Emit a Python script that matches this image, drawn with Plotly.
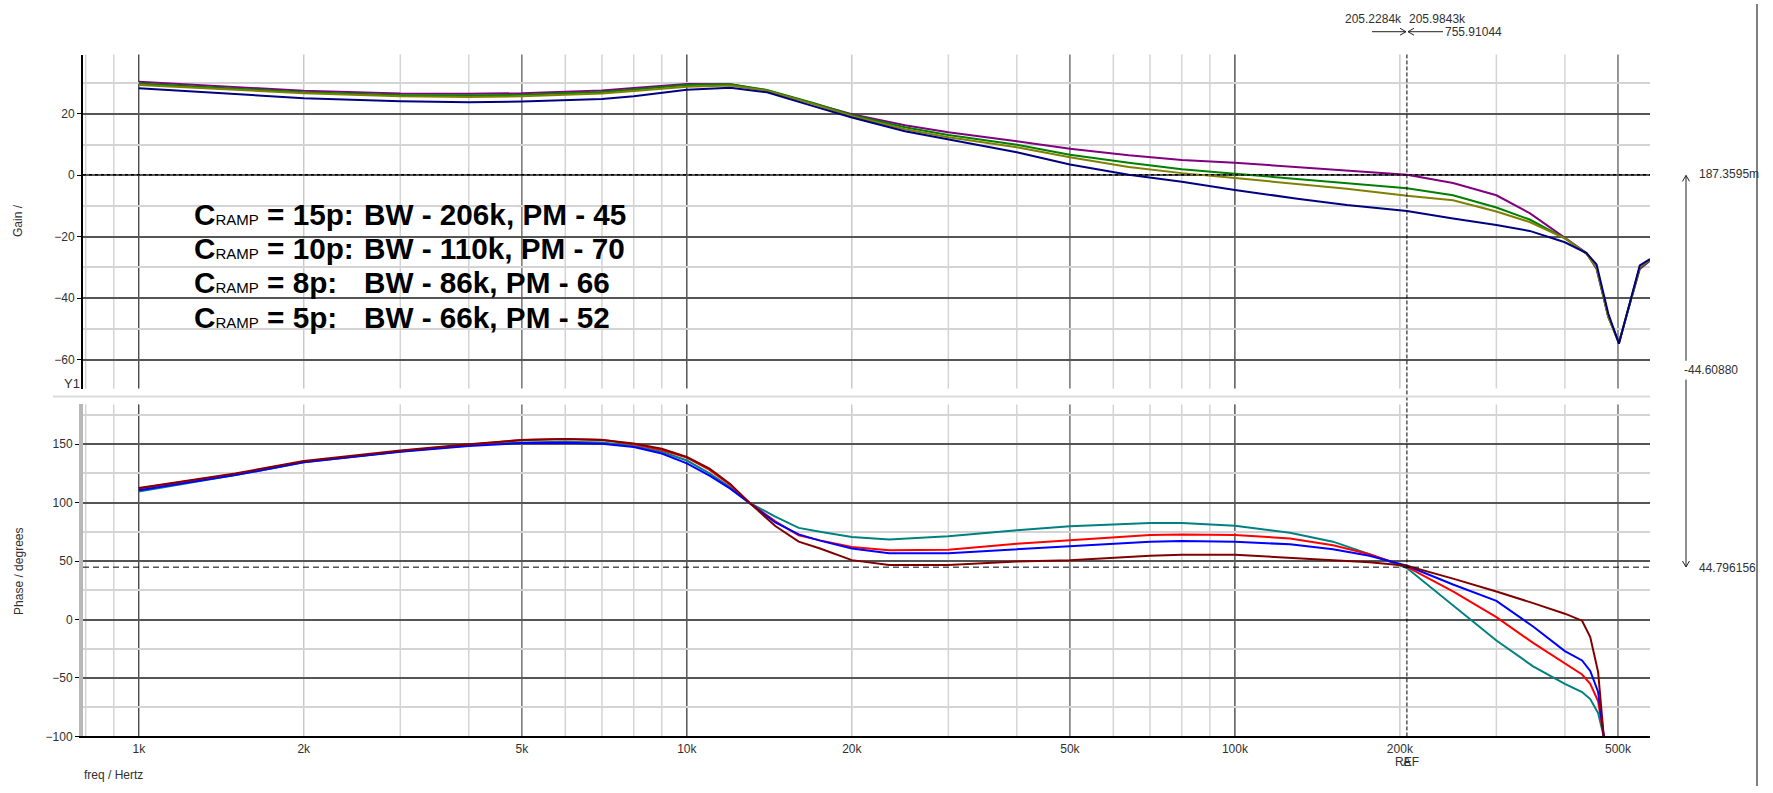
import numpy as np
import plotly.graph_objects as go

W, H = 1773, 793
FONT = "Liberation Sans, Arial, sans-serif"

# ---------------- data ----------------
gain_freq = [1000, 1500, 2000, 3000, 4000, 5000, 6000, 7000, 8000, 9000, 10000, 12000, 14000,
             17000, 20000, 25000, 30000, 40000, 50000, 64000, 80000, 100000, 130000, 160000,
             206000, 250000, 300000, 345000, 400000, 438000, 457000, 480000, 502000, 548000, 572000]
gain_15p = [30.4, 28.8, 27.5, 26.6, 26.5, 26.7, 27.1, 27.6, 28.4, 29.1, 29.7, 29.6, 27.6,
            23.4, 19.9, 16.3, 14.0, 11.1, 8.6, 6.5, 5.0, 4.1, 2.7, 1.6,
            0.2, -2.5, -6.5, -12.3, -20.2, -25.3, -30.5, -46.0, -54.4, -30.5, -27.8]
gain_10p = [29.9, 28.3, 27.0, 26.1, 26.0, 26.2, 26.6, 27.1, 27.9, 28.6, 29.4, 29.6, 27.8,
            23.5, 19.6, 15.6, 13.1, 9.9, 6.7, 4.1, 2.0, 0.5, -1.2, -2.4,
            -4.2, -6.5, -10.5, -14.4, -20.5, -25.5, -30.0, -46.0, -54.6, -30.0, -27.6]
gain_8p = [29.4, 27.9, 26.7, 25.7, 25.5, 25.7, 26.1, 26.6, 27.4, 28.2, 28.8, 29.2, 27.5,
           23.2, 19.3, 15.0, 12.4, 9.1, 5.9, 2.7, 0.7, -0.9, -2.9, -4.4,
           -6.7, -8.1, -11.8, -15.2, -20.5, -25.5, -30.0, -46.0, -54.6, -29.8, -27.5]
gain_5p = [28.3, 26.5, 25.1, 24.1, 23.8, 24.0, 24.3, 24.8, 25.7, 26.9, 27.8, 28.5, 27.0,
           22.5, 18.8, 14.3, 11.6, 7.5, 3.5, 0.2, -2.1, -4.8, -7.6, -9.7,
           -11.6, -14.1, -16.2, -18.1, -21.8, -25.3, -29.0, -45.0, -54.8, -29.3, -27.3]

phase_freq = [1000, 1500, 2000, 3000, 4000, 5000, 6000, 7000, 8000, 9000, 10000, 11000, 12000,
              13000, 14500, 16000, 17500, 20000, 23400, 30000, 40000, 50000, 70000, 80000,
              100000, 126000, 151000, 176000, 206000, 250000, 300000, 350000, 400000, 430000,
              445000, 460000, 471000]
phase_teal = [109.4, 123.5, 134.5, 143.8, 149.0, 151.5, 152.0, 151.5, 148.5, 143.5, 136.0, 125.0, 113.0,
              100.0, 88.0, 78.4, 75.0, 70.5, 68.5, 71.3, 76.4, 79.8, 82.6, 82.6,
              80.3, 74.2, 66.6, 55.9, 44.0, 12.0, -18.0, -40.0, -55.0, -62.0,
              -68.0, -80.0, -100.0]
phase_red = [112.0, 124.5, 135.0, 144.0, 149.5, 153.5, 154.5, 153.7, 150.0, 145.0, 138.5, 128.0, 115.0,
             100.0, 84.0, 72.0, 67.7, 62.0, 59.3, 59.6, 64.9, 67.7, 72.2, 72.8,
             72.2, 69.4, 63.5, 55.9, 45.0, 24.0, 2.0, -20.0, -38.0, -47.0,
             -55.0, -70.0, -100.0]
phase_blue = [110.5, 123.5, 134.5, 143.5, 148.5, 151.0, 151.2, 150.3, 147.5, 142.0, 133.5, 123.0, 112.0,
              100.0, 83.0, 72.8, 67.5, 60.7, 56.7, 56.7, 60.1, 62.1, 66.6, 67.1,
              66.6, 64.3, 60.1, 54.5, 46.0, 30.0, 16.0, -6.0, -27.0, -35.0,
              -44.0, -62.0, -100.0]
phase_maroon = [112.5, 125.0, 135.5, 144.5, 150.0, 153.5, 154.5, 153.5, 150.5, 146.0, 139.0, 129.0, 116.0,
                100.0, 80.0, 66.6, 60.7, 50.8, 46.6, 46.6, 49.7, 50.8, 54.5, 55.3,
                55.3, 53.1, 50.8, 48.9, 46.0, 35.0, 24.0, 14.0, 5.0, -1.0,
                -15.0, -45.0, -100.0]

x_tick_vals = [1e3, 2e3, 5e3, 1e4, 2e4, 5e4, 1e5, 2e5, 5e5]
x_tick_text = ["1k", "2k", "5k", "10k", "20k", "50k", "100k", "200k", "500k"]
x_decades = [1e3, 1e4, 1e5]
x_fives = [5e3, 5e4, 5e5]
x_twos = [2e3, 2e4, 2e5]
x_minor = [800, 900, 3e3, 4e3, 6e3, 7e3, 8e3, 9e3, 3e4, 4e4, 6e4, 7e4, 8e4, 9e4, 3e5, 4e5]

gain_major = [-60, -40, -20, 0, 20]
gain_minor = [-50, -30, -10, 10, 30]
phase_major = [-100, -50, 0, 50, 100, 150]
phase_minor = [-75, -25, 25, 75, 125, 175]

legend_c = ["15p", "10p", "8p", "5p"]
legend_bw = ["206k", "110k", "86k", "66k"]
legend_pm = ["45", "70", "66", "52"]

CURSOR_A = 205228.4
CURSOR_B = 205984.3
GAIN_REF = 0.1873595
PHASE_REF = 44.796156

# ---------------- layout geometry ----------------
def px(x):
    return x / W

def py(y):
    return 1 - y / H

XDOM = [px(83), px(1650)]
UP_DOM = [py(392), py(55)]
LO_DOM = [py(743), py(408)]
XRANGE = [np.log10(791), np.log10(572000)]

fig = go.Figure()

gain_series = [(gain_15p, "#800080"), (gain_10p, "#008000"), (gain_8p, "#808000"), (gain_5p, "#000080")]
for vals, col in gain_series:
    fig.add_trace(go.Scatter(x=gain_freq, y=vals, mode="lines", line=dict(color=col, width=2),
                             xaxis="x2", yaxis="y2", showlegend=False, hoverinfo="skip"))

phase_series = [(phase_teal, "#008080"), (phase_red, "#FF0000"), (phase_blue, "#0000FF"), (phase_maroon, "#800000")]
for vals, col in phase_series:
    fig.add_trace(go.Scatter(x=phase_freq, y=vals, mode="lines", line=dict(color=col, width=2),
                             xaxis="x", yaxis="y", showlegend=False, hoverinfo="skip"))

shapes = []
# vertical grid lines
for yref in ["y domain", "y2 domain"]:
    xr = "x" if yref == "y domain" else "x2"
    for vals, col, wd in [(x_minor, "#d4d4d4", 1.5), (x_twos, "#bdbdbd", 1.2),
                          (x_fives, "#505050", 1.2), (x_decades, "#000000", 1)]:
        for v in vals:
            shapes.append(dict(type="line", xref=xr, yref=yref, x0=v, x1=v, y0=0, y1=1,
                               line=dict(color=col, width=wd), layer="below"))

# reference lines
shapes.append(dict(type="line", xref="x2 domain", yref="y2", x0=0, x1=1, y0=GAIN_REF, y1=GAIN_REF,
                   line=dict(color="black", width=1.5, dash="dot")))
shapes.append(dict(type="line", xref="x domain", yref="y", x0=0, x1=1, y0=PHASE_REF, y1=PHASE_REF,
                   line=dict(color="black", width=1, dash="6px,4px")))
# cursor
shapes.append(dict(type="line", xref="x", yref="paper", x0=CURSOR_B, x1=CURSOR_B,
                   y0=LO_DOM[0], y1=UP_DOM[1], line=dict(color="black", width=1, dash="4px,2px")))
# separator between panels
shapes.append(dict(type="line", xref="paper", yref="paper", x0=px(53), x1=px(1650), y0=py(400), y1=py(400),
                   line=dict(color="#dcdcdc", width=2)))
# right border
shapes.append(dict(type="line", xref="paper", yref="paper", x0=px(1757), x1=px(1757), y0=0, y1=py(4),
                   line=dict(color="#808080", width=2)))


def seg(x0, y0, x1, y1):
    shapes.append(dict(type="line", xref="paper", yref="paper", x0=px(x0), x1=px(x1), y0=py(y0), y1=py(y1),
                       line=dict(color="#202020", width=1)))


def vhead(pts):
    d = "M" + " L".join(f"{px(a):.5f},{py(b):.5f}" for a, b in pts)
    shapes.append(dict(type="path", xref="paper", yref="paper", path=d, line=dict(color="#202020", width=1)))


# top cursor arrows
seg(1372, 32, 1406, 32)
vhead([(1400, 28.5), (1406, 32), (1400, 35.5)])
seg(1408, 32, 1443, 32)
vhead([(1414, 28.5), (1408, 32), (1414, 35.5)])
# right measurement arrow
seg(1686, 177, 1686, 364)
vhead([(1682.5, 183), (1686, 177), (1689.5, 183)])
seg(1686, 383, 1686, 572)
vhead([(1682.5, 566), (1686, 572), (1689.5, 566)])

annotations = []
tick_font = dict(family=FONT, size=12, color="#303030")


def label(text, x, y, xa="center", ya="middle", angle=0, font=tick_font, xref="paper"):
    annotations.append(dict(text=text, x=x if xref != "paper" else px(x), y=py(y), xref=xref, yref="paper",
                            xanchor=xa, yanchor=ya, showarrow=False, textangle=angle, font=font))


# axis titles
label("Gain /", 18, 223, angle=-90)
label("Phase / degrees", 19, 577, angle=-90)
label("freq / Hertz", 113, 782)
label("Y1", 82, 387, xa="right", font=dict(family=FONT, size=13, color="#303030"))
label("REF", np.log10(CURSOR_B), 769, xref="x")
label("A", np.log10(CURSOR_B), 769, xref="x")

# cursor readouts on top
label(f"{CURSOR_A/1000:.4f}k", 1343, 19, xa="left")
label(f"{CURSOR_B/1000:.4f}k", 1407, 19, xa="left")
label("755.91044", 1443, 32, xa="left")

# right measurement
label("187.3595m", 1697, 176, xa="left")
label("-44.60880", 1682, 373, xa="left")
label(f"{PHASE_REF:.6f}", 1697, 573, xa="left")

# legend text
big = dict(family=FONT, size=29.7, color="#000000")
line_y = [216.7, 250.5, 285, 320]
for c, bw, pm, yy in zip(legend_c, legend_bw, legend_pm, line_y):
    label(f"<b>C</b><span style='font-size:15px'>RAMP</span><b> = {c}:</b>", 192, yy, xa="left", font=big)
    label(f"<b>BW - {bw}, PM - {pm}</b>", 362, yy, xa="left", font=big)

fig.update_layout(
    width=W, height=H, margin=dict(l=0, r=0, t=0, b=0),
    paper_bgcolor="white", plot_bgcolor="white",
    font=dict(family=FONT, size=12, color="#303030"),
    xaxis=dict(domain=XDOM, type="log", range=XRANGE, anchor="y",
               tickvals=x_tick_vals, ticktext=x_tick_text, showgrid=False, zeroline=False,
               showline=True, linecolor="black", linewidth=1.5, ticks="", tickfont=tick_font),
    xaxis2=dict(domain=XDOM, type="log", range=XRANGE, anchor="y2", matches="x",
                showticklabels=False, showgrid=False, zeroline=False, showline=False, ticks=""),
    yaxis=dict(domain=LO_DOM, range=[-100, 184], anchor="x", tickvals=phase_major,
               showgrid=True, gridcolor="#555555", gridwidth=1.5, zeroline=False,
               showline=True, linecolor="#b8b8b8", linewidth=4, ticks="outside", ticklen=4,
               tickcolor="black", tickfont=tick_font,
               minor=dict(tickvals=phase_minor, showgrid=True, gridcolor="#d4d4d4", gridwidth=1.5, ticks="")),
    yaxis2=dict(domain=UP_DOM, range=[-69.4, 39.3], anchor="x2", tickvals=gain_major,
                showgrid=True, gridcolor="#555555", gridwidth=1.5, zeroline=False,
                showline=True, linecolor="black", linewidth=2, ticks="outside", ticklen=4,
                tickcolor="black", tickfont=tick_font,
                minor=dict(tickvals=gain_minor, showgrid=True, gridcolor="#d4d4d4", gridwidth=1.5, ticks="")),
    shapes=shapes, annotations=annotations,
)

fig.write_html("out.html")
